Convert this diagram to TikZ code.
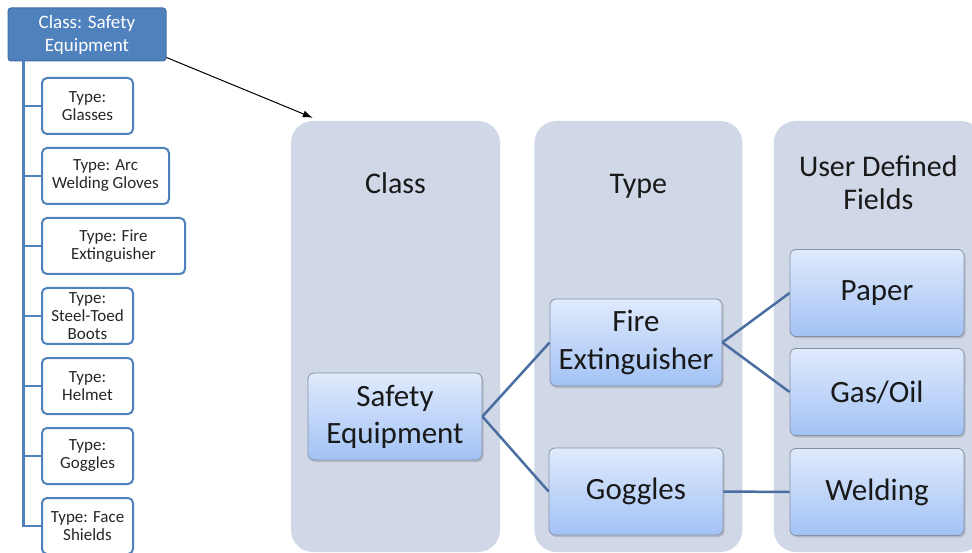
\documentclass[tikz,border=0pt]{standalone}
\usepackage{fontspec}
\setmainfont{Carlito}
\usetikzlibrary{arrows.meta}
\usetikzlibrary{positioning}
\usetikzlibrary{shadows}
\definecolor{accent}{RGB}{79,129,189}
\definecolor{accentdark}{RGB}{66,110,165}
\definecolor{panelfill}{RGB}{208,216,231}
\definecolor{itemtop}{RGB}{224,234,252}
\definecolor{itembottom}{RGB}{162,194,245}
\definecolor{itemline}{RGB}{135,145,165}
\definecolor{linkcolor}{RGB}{74,110,160}
\tikzset {
  % header box of the tree
  head/.style = {
    draw = accentdark,
    fill = accent,
    text = white,
    line width = 1pt,
    rounded corners = 3pt,
    minimum width = 158pt,
    minimum height = 53pt,
    inner sep = 0,
    align = center,
    font = \fontsize{19}{23}\selectfont
  },
  % one type in the tree
  tbox/.style = {
    draw = accent,
    fill = white,
    text = black!85,
    line width = 2pt,
    rounded corners = 5pt,
    minimum width = 91pt,
    minimum height = 56pt,
    inner sep = 0,
    align = center,
    font = \fontsize{17}{18}\selectfont
  },
  tree/.style = {
    draw = accent,
    line width = 2.5pt
  },
  pointer/.style = {
    draw = black,
    line width = 1pt,
    -{Latex[length=10pt,width=7pt]}
  },
  node distance = 12pt
}
\tikzset {
  % column in the background
  panel/.style = {
    fill = panelfill,
    rounded corners = 22pt,
    minimum width = 209pt,
    minimum height = 431pt,
    inner sep = 0
  },
  title/.style = {
    text = black!90,
    align = center,
    inner sep = 0,
    font = \fontsize{30}{33}\selectfont
  },
  % entry in a column
  item/.style = {
    draw = itemline,
    line width = 0.8pt,
    rounded corners = 6pt,
    top color = itemtop,
    bottom color = itembottom,
    drop shadow = {opacity=0.35, shadow xshift=1.5pt, shadow yshift=-2pt},
    minimum width = 174pt,
    minimum height = 87pt,
    inner sep = 0,
    align = center,
    text = black!90,
    font = \fontsize{31}{37}\selectfont
  },
  link/.style = {
    draw = linkcolor,
    line width = 2.5pt
  }
}
\begin{document}
\begin{tikzpicture}[x=1pt,y=-1pt]
    \useasboundingbox (0,0) rectangle (972,553);

    % tree on the left
    \node[head] (classhead) at (87,34.5) {Class: Safety\\Equipment};
    \node[tbox, anchor=north west] (glasses) at (41,77) {Type:\\Glasses};
    \node[tbox, minimum width=127pt] (gloves) [below=of glasses.south west, anchor=north west] {Type: Arc\\Welding Gloves};
    \node[tbox, minimum width=143pt] (fireext) [below=of gloves.south west, anchor=north west] {Type: Fire\\Extinguisher};
    \node[tbox] (boots) [below=of fireext.south west, anchor=north west] {Type:\\Steel-Toed\\Boots};
    \node[tbox] (helmet) [below=of boots.south west, anchor=north west] {Type:\\Helmet};
    \node[tbox] (gogglestype) [below=of helmet.south west, anchor=north west] {Type:\\Goggles};
    \node[tbox] (shields) [below=of gogglestype.south west, anchor=north west] {Type: Face\\Shields};

    \coordinate (trunk) at ([xshift=16pt]classhead.south west);
    \foreach \t in {glasses,gloves,fireext,boots,helmet,gogglestype,shields}
      \draw[tree] (trunk) |- (\t.west);

    % columns
    \node[panel] (classcol) at (395.5,336.5) {};
    \node[panel, minimum width=208pt] (typecol) [right=34pt of classcol] {};
    \node[panel] (fieldcol) [right=31pt of typecol] {};

    \node[title, anchor=base] (classtitle) at ([yshift=-73pt]classcol.north) {Class};
    \node[title, anchor=base] (typetitle) at ([yshift=-73pt]typecol.north) {Type};
    \node[title] (fieldtitle) at ([yshift=-62pt]fieldcol.north) {User Defined\\Fields};

    \draw[pointer] ([yshift=4pt]classhead.south east) -- ([xshift=22pt,yshift=3pt]classcol.north west);

    % entries
    \node[item] (safety) at (395,416.5) {Safety\\Equipment};
    \node[item, minimum width=172pt] (fire) at (636,342.5) {Fire\\Extinguisher};
    \node[item] (goggles) at (636,491.5) {Goggles};
    \node[item] (paper) at (877,293) {Paper};
    \node[item] (gasoil) at (877,392) {Gas/Oil};
    \node[item] (welding) at (877,492) {Welding};

    \draw[link] (safety.east) -- (fire.west);
    \draw[link] (safety.east) -- (goggles.west);
    \draw[link] (fire.east) -- (paper.west);
    \draw[link] (fire.east) -- (gasoil.west);
    \draw[link] (goggles.east) -- (welding.west);
\end{tikzpicture}
\end{document}
